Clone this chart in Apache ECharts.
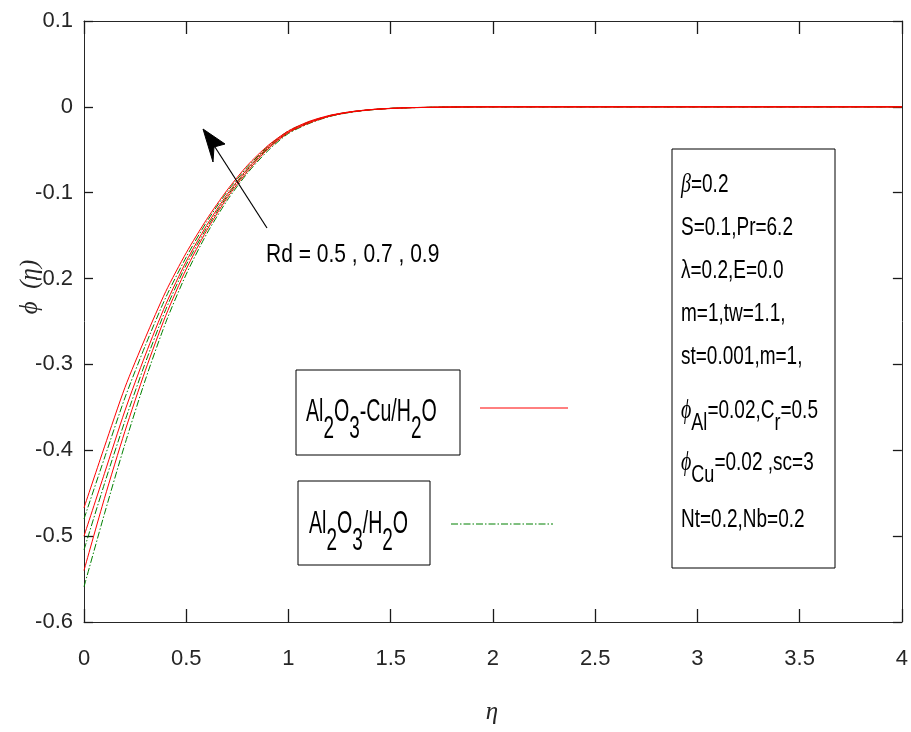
<!DOCTYPE html>
<html>
<head>
<meta charset="utf-8">
<script src="https://cdn.jsdelivr.net/npm/echarts@6/dist/echarts.min.js"></script>
<style>
  html, body { margin: 0; padding: 0; background: #fff; }
  #chart { width: 911px; height: 732px; }
</style>
</head>
<body>
<div id="chart"></div>
<script>
// eta grid
var eta = [0, 0.1, 0.2, 0.3, 0.4, 0.5, 0.6, 0.7, 0.8, 0.9, 1.0, 1.1, 1.2, 1.3, 1.4, 1.5, 1.6, 1.8, 2.0, 2.5, 3.0, 3.5, 4.0];

// Al2O3-Cu/H2O (red), Rd = 0.5, 0.7, 0.9
var hybridRd1 = [-0.467, -0.396, -0.327, -0.269, -0.215, -0.170, -0.131, -0.097, -0.068, -0.045, -0.028, -0.017, -0.010, -0.0058, -0.0032, -0.0017, -0.0009, -0.0002, 0, 0, 0, 0, 0];
var hybridRd2 = [-0.500, -0.427, -0.354, -0.289, -0.230, -0.180, -0.138, -0.102, -0.072, -0.047, -0.029, -0.018, -0.0105, -0.006, -0.0033, -0.0018, -0.0009, -0.0002, 0, 0, 0, 0, 0];
var hybridRd3 = [-0.540, -0.456, -0.378, -0.307, -0.243, -0.189, -0.144, -0.106, -0.075, -0.049, -0.030, -0.019, -0.011, -0.0063, -0.0035, -0.0019, -0.001, -0.0002, 0, 0, 0, 0, 0];

// Al2O3/H2O (green), Rd = 0.5, 0.7, 0.9
var monoRd1 = [-0.480, -0.409, -0.339, -0.278, -0.222, -0.175, -0.134, -0.099, -0.070, -0.046, -0.028, -0.0175, -0.0102, -0.0059, -0.0033, -0.0017, -0.0009, -0.0002, 0, 0, 0, 0, 0];
var monoRd2 = [-0.516, -0.439, -0.366, -0.298, -0.236, -0.184, -0.141, -0.104, -0.073, -0.048, -0.030, -0.0185, -0.0108, -0.0062, -0.0034, -0.0018, -0.0009, -0.0002, 0, 0, 0, 0, 0];
var monoRd3 = [-0.559, -0.474, -0.393, -0.318, -0.251, -0.195, -0.148, -0.109, -0.077, -0.051, -0.031, -0.0195, -0.0113, -0.0065, -0.0036, -0.0019, -0.001, -0.0002, 0, 0, 0, 0, 0];

var paramLines = ['S=0.1,Pr=6.2', '\u03bb=0.2,E=0.0', 'm=1,tw=1.1,', 'st=0.001,m=1,'];

var FONT = "'Liberation Sans', Arial, sans-serif";
var SERIF = "'Liberation Serif', serif";
var AXIS = '#262626';

function pairs(ys) {
    return eta.map(function (x, i) { return [x, ys[i]]; });
}

function lineSeries(name, ys, color, dash) {
    return {
        name: name,
        type: 'line',
        data: pairs(ys),
        symbol: 'none',
        smooth: 0.25,
        silent: true,
        lineStyle: { color: color, width: 1, type: dash || 'solid' },
        z: 3
    };
}

// inward ticks, x ticks are longer as in the original
function ticks(len) {
    return { show: true, inside: true, length: len, lineStyle: { color: '#1a1a1a', width: 1.3 } };
}
function axLine() {
    return { show: true, onZero: false, lineStyle: { color: AXIS, width: 1 } };
}

var chart = echarts.init(document.getElementById('chart'), null, { renderer: 'canvas' });

var fmt = function (v) { return String(+v.toFixed(1)); };
var greenDash = [7, 2, 1.5, 2];

var option = {
    animation: false,
    backgroundColor: '#fff',
    grid: { left: 84, right: 7, top: 21, bottom: 110, containLabel: false },
    xAxis: [{
        type: 'value', min: 0, max: 4, interval: 0.5,
        axisLine: axLine(),
        axisTick: ticks(13),
        axisLabel: { color: AXIS, fontFamily: FONT, fontSize: 22, margin: 26, formatter: fmt },
        splitLine: { show: false }
    }, {
        type: 'value', min: 0, max: 4, interval: 0.5, position: 'top',
        axisLine: axLine(),
        axisTick: ticks(13),
        axisLabel: { show: false },
        splitLine: { show: false }
    }],
    yAxis: [{
        type: 'value', min: -0.6, max: 0.1, interval: 0.1,
        axisLine: axLine(),
        axisTick: ticks(9),
        axisLabel: { color: AXIS, fontFamily: FONT, fontSize: 22, margin: 11, formatter: fmt },
        splitLine: { show: false }
    }, {
        type: 'value', min: -0.6, max: 0.1, interval: 0.1, position: 'right',
        axisLine: axLine(),
        axisTick: ticks(9),
        axisLabel: { show: false },
        splitLine: { show: false }
    }],
    series: [
        lineSeries('Al2O3/H2O Rd=0.5', monoRd1, '#008000', greenDash),
        lineSeries('Al2O3/H2O Rd=0.7', monoRd2, '#008000', greenDash),
        lineSeries('Al2O3/H2O Rd=0.9', monoRd3, '#008000', greenDash),
        lineSeries('Al2O3-Cu/H2O Rd=0.5', hybridRd1, '#ff0000'),
        lineSeries('Al2O3-Cu/H2O Rd=0.7', hybridRd2, '#ff0000'),
        lineSeries('Al2O3-Cu/H2O Rd=0.9', hybridRd3, '#ff0000')
    ],
    graphic: []
};

// annotations, legend boxes and parameter box
var g = [];
var subRich = {
    a: { fontFamily: FONT, fontSize: 28, fill: '#000' },
    b: { fontFamily: FONT, fontSize: 27, fill: '#000', padding: [30, 0, 0, 0] }
};

g.push({ type: 'rect', shape: { x: 296, y: 370, width: 164, height: 85 }, style: { fill: '#fff', stroke: '#000', lineWidth: 1 }, z: 10 });
g.push({ type: 'text', x: 306, y: 379, scaleX: 0.7, scaleY: 1.15, style: { text: '{a|Al}{b|2}{a|O}{b|3}{a|-Cu/H}{b|2}{a|O}', rich: subRich }, z: 11 });
g.push({ type: 'line', shape: { x1: 480, y1: 408, x2: 568, y2: 408 }, style: { stroke: '#ff0000', lineWidth: 1 }, z: 11 });

g.push({ type: 'rect', shape: { x: 298, y: 481, width: 132, height: 84 }, style: { fill: '#fff', stroke: '#000', lineWidth: 1 }, z: 10 });
g.push({ type: 'text', x: 309, y: 491, scaleX: 0.7, scaleY: 1.15, style: { text: '{a|Al}{b|2}{a|O}{b|3}{a|/H}{b|2}{a|O}', rich: subRich }, z: 11 });
g.push({ type: 'line', shape: { x1: 451, y1: 524, x2: 553, y2: 524 }, style: { stroke: '#008000', lineWidth: 1, lineDash: greenDash }, z: 11 });

// parameter box
g.push({ type: 'rect', shape: { x: 672, y: 149, width: 163, height: 419 }, style: { fill: '#fff', stroke: '#000', lineWidth: 1 }, z: 10 });
var pRich = {
    a: { fontFamily: FONT, fontSize: 20, fill: '#000' },
    gr: { fontFamily: SERIF, fontStyle: 'italic', fontSize: 21, fill: '#000' },
    b: { fontFamily: FONT, fontSize: 19, fill: '#000', padding: [20, 0, 0, 0] }
};
var PSX = 0.95, PSY = 1.3;
g.push({ type: 'text', x: 681, y: 185, scaleX: PSX, scaleY: PSY, style: { text: '{gr|\u03b2}{a|=0.2}', rich: pRich, verticalAlign: 'middle' }, z: 11 });
paramLines.forEach(function (t, i) {
    g.push({ type: 'text', x: 681, y: 228 + i * 43, scaleX: PSX, scaleY: PSY, style: { text: '{a|' + t + '}', rich: pRich, verticalAlign: 'middle' }, z: 11 });
});
g.push({ type: 'text', x: 681, y: 385, scaleX: PSX, scaleY: PSY, style: { text: '{gr|\u03d5}{b|Al}{a|=0.02,C}{b|r}{a|=0.5}', rich: pRich, verticalAlign: 'top' }, z: 11 });
g.push({ type: 'text', x: 681, y: 437, scaleX: PSX, scaleY: PSY, style: { text: '{gr|\u03d5}{b|Cu}{a|=0.02 ,sc=3}', rich: pRich, verticalAlign: 'top' }, z: 11 });
g.push({ type: 'text', x: 681, y: 520, scaleX: PSX, scaleY: PSY, style: { text: '{a|Nt=0.2,Nb=0.2}', rich: pRich, verticalAlign: 'middle' }, z: 11 });

// arrow and Rd label
g.push({ type: 'line', shape: { x1: 267, y1: 228, x2: 213, y2: 144 }, style: { stroke: '#000', lineWidth: 1.2 }, z: 11 });
g.push({ type: 'polygon', shape: { points: [[203, 129], [225, 144], [214, 147], [213, 162]] }, style: { fill: '#000', stroke: '#000' }, z: 11 });
g.push({ type: 'text', x: 266, y: 255, scaleY: 1.25, style: { text: 'Rd = 0.5 , 0.7 , 0.9', font: "21px 'Liberation Sans', Arial, sans-serif", fill: '#000', verticalAlign: 'middle' }, z: 11 });

// axis names
g.push({ type: 'text', x: 492, y: 712, style: { text: '\u03b7', font: "italic 25px 'Liberation Serif', serif", fill: AXIS, align: 'center', verticalAlign: 'middle' }, z: 11 });
g.push({ type: 'text', x: 30, y: 287, rotation: Math.PI / 2, style: { text: '\u03d5  (\u03b7)', font: "italic 25px 'Liberation Serif', serif", fill: AXIS, align: 'center', verticalAlign: 'middle' }, z: 11 });

option.graphic = g;
chart.setOption(option);
</script>
</body>
</html>
